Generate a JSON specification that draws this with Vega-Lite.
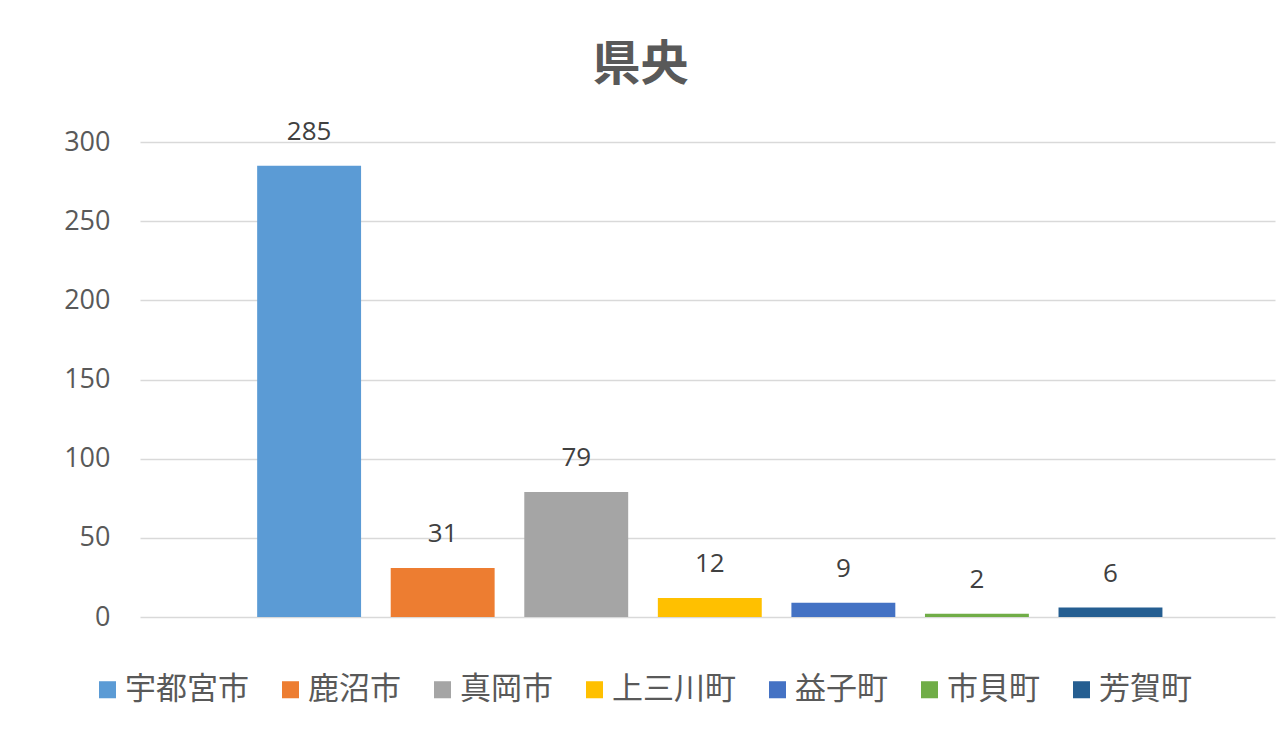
{
  "$schema": "https://vega.github.io/schema/vega-lite/v6.json",
  "autosize": {"type": "none"},
  "width": 1135,
  "height": 475,
  "padding": {"left": 140, "top": 142, "right": 5, "bottom": 125},
  "background": "white",
  "title": {
    "text": "県央",
    "fontSize": 48,
    "fontWeight": "bold",
    "font": "Noto Sans CJK JP",
    "color": "#595959",
    "anchor": "middle",
    "dx": -67,
    "offset": 29
  },
  "data": {
    "values": [
      {"city": "宇都宮市", "value": 285},
      {"city": "鹿沼市", "value": 31},
      {"city": "真岡市", "value": 79},
      {"city": "上三川町", "value": 12},
      {"city": "益子町", "value": 9},
      {"city": "市貝町", "value": 2},
      {"city": "芳賀町", "value": 6}
    ]
  },
  "encoding": {
    "x": {
      "field": "city",
      "type": "nominal",
      "sort": null,
      "scale": {"paddingInner": 0.222, "paddingOuter": 0.86, "align": 0.51},
      "axis": null
    },
    "y": {
      "field": "value",
      "type": "quantitative",
      "scale": {"domain": [0, 300], "nice": false},
      "axis": {
        "values": [0, 50, 100, 150, 200, 250, 300],
        "title": null,
        "domain": false,
        "ticks": false,
        "labelPadding": 30,
        "labelFont": "Open Sans",
        "labelFontSize": 27,
        "labelColor": "#595959",
        "gridColor": "#D9D9D9",
        "gridWidth": 1.5
      }
    }
  },
  "layer": [
    {
      "mark": {"type": "bar"},
      "encoding": {
        "color": {
          "field": "city",
          "type": "nominal",
          "sort": null,
          "scale": {
            "domain": ["宇都宮市", "鹿沼市", "真岡市", "上三川町", "益子町", "市貝町", "芳賀町"],
            "range": ["#5B9BD5", "#ED7D31", "#A5A5A5", "#FFC000", "#4472C4", "#70AD47", "#255E91"]
          },
          "legend": {
            "title": null,
            "orient": "none",
            "direction": "horizontal",
            "legendX": -48,
            "legendY": 532,
            "symbolType": "square",
            "symbolSize": 290,
            "symbolStrokeWidth": 0,
            "labelFont": "Noto Sans CJK JP",
            "labelFontSize": 31,
            "labelColor": "#595959",
            "labelOffset": 2,
            "columnPadding": 26,
            "labelLimit": 300
          }
        }
      }
    },
    {
      "mark": {
        "type": "text",
        "baseline": "alphabetic",
        "dy": -26,
        "font": "Open Sans",
        "fontSize": 26,
        "color": "#404040"
      },
      "encoding": {
        "text": {"field": "value", "type": "quantitative"}
      }
    }
  ],
  "config": {
    "view": {"stroke": null}
  }
}
